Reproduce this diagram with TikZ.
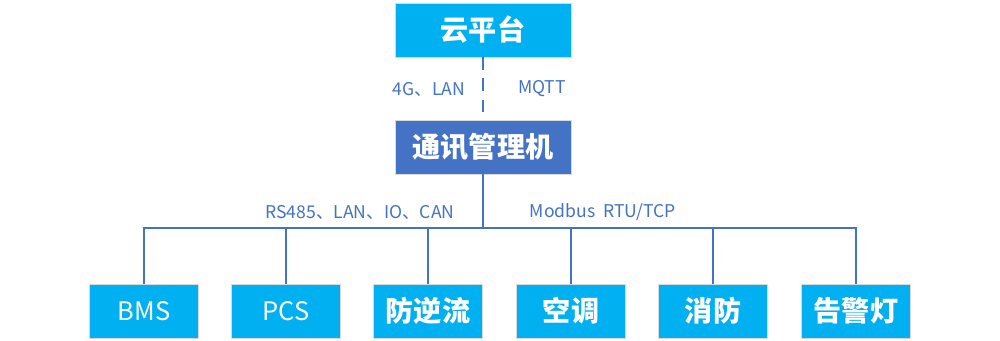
\documentclass[tikz,border=0pt]{standalone}
\usepackage{fontspec}
\setmainfont{Noto Sans CJK SC}
\usepackage{tikz}
\usetikzlibrary{calc}
\definecolor{skyblue}{HTML}{00B0F0}
\definecolor{linkblue}{HTML}{4472C4}

\begin{document}
\begin{tikzpicture}[x=0.02cm,y=-0.02cm,
    box/.style={draw=black!15,line width=0.4pt,minimum width=3.52cm,minimum height=1.08cm,inner sep=0pt,text=white,font=\fontsize{16}{19}\selectfont\bfseries},
    unit/.style={box,fill=skyblue,minimum width=2.18cm},
    link/.style={draw=linkblue,line width=1.1pt},
    tag/.style={text=linkblue,font=\fontsize{10}{12}\selectfont}]
  \useasboundingbox (0,0) rectangle (1000,341);
  \node[box,fill=skyblue] (cloud) at (483,30) {云平台};
  \node[box,fill=linkblue] (gw) at (483,147) {通讯管理机};
  \draw[link,dashed,dash pattern=on 7pt off 5pt] (cloud) -- (gw);
  \node[tag] (t1) at (429,89) {4G、LAN};
  \node[tag] (t2) at (542,89) {MQTT};
  \coordinate (bus) at (483,228);
  \draw[link] (gw) -- (bus);
  \node[tag] (t3) at (360,212) {RS485、LAN、IO、CAN};
  \node[tag] (t4) at (603,212) {Modbus\ \ RTU/TCP};
  \foreach \x/\n/\t in {144/bms/{\mdseries\fontsize{14.5}{17}\selectfont BMS},286/pcs/{\mdseries\fontsize{14.5}{17}\selectfont PCS},428/anti/防逆流,571/ac/空调,713/fire/消防,856/alarm/告警灯} {
    \node[unit] (\n) at (\x,311) {\t};
  }
  \draw[link] (bms.north) |- (bus) -| (alarm.north);
  \foreach \n in {pcs,anti,ac,fire} {
    \draw[link] (\n.north) -- (\n.north |- bus);
  }
\end{tikzpicture}
\end{document}
